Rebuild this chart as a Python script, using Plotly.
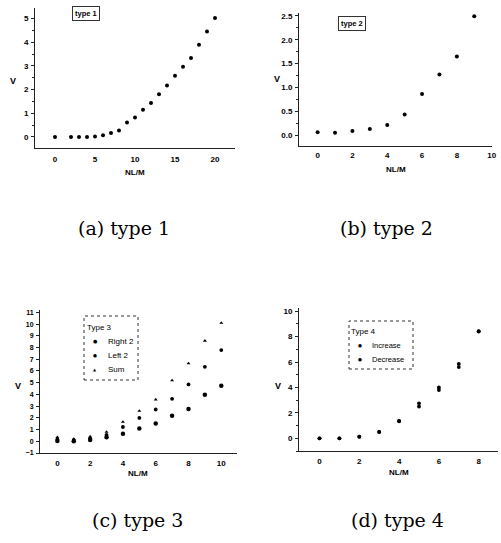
import plotly.graph_objects as go

# ---------------- data ----------------
t1_x = [0, 2, 3, 4, 5, 6, 7, 8, 9, 10, 11, 12, 13, 14, 15, 16, 17, 18, 19, 20]
t1_v = [0.0, 0.0, 0.0, 0.0, 0.02, 0.07, 0.16, 0.27, 0.61, 0.82, 1.15, 1.43,
        1.8, 2.17, 2.59, 2.97, 3.34, 3.9, 4.46, 5.03]

t2_x = [0, 1, 2, 3, 4, 5, 6, 7, 8, 9]
t2_v = [0.056, 0.05, 0.084, 0.126, 0.21, 0.43, 0.86, 1.27, 1.65, 2.49]

t3_x = [0, 1, 2, 3, 4, 5, 6, 7, 8, 9, 10]
t3_right = [0.02, 0.0, 0.1, 0.35, 0.65, 1.08, 1.51, 2.17, 2.76, 3.96, 4.73]
t3_left = [0.15, 0.1, 0.25, 0.55, 1.22, 1.99, 2.71, 3.62, 4.85, 6.35, 7.78]
t3_sum = [0.35, 0.2, 0.4, 0.8, 1.65, 2.59, 3.56, 5.19, 6.64, 8.57, 10.1]

t4_x = [0, 1, 2, 3, 4, 5, 6, 7, 8]
t4_inc = [0.0, 0.0, 0.13, 0.5, 1.34, 2.5, 3.8, 5.6, 8.4]
t4_dec = [0.0, 0.0, 0.12, 0.5, 1.36, 2.75, 4.0, 5.85, 8.42]

captions = ["(a) type 1", "(b) type 2", "(c) type 3", "(d) type 4"]
legend3_title, legend3_names = "Type 3", ["Right 2", "Left 2", "Sum"]
legend4_title, legend4_names = "Type 4", ["Increase", "Decrease"]

# ---------------- layout helpers ----------------
W, H = 501, 543
def fx(p):
    return p / W
def fy(p):
    return 1 - p / H

TXT = "black"
AX = "#222"
SANS = "Liberation Sans"
def bfont(size):
    return dict(family=SANS, size=size, color=TXT, weight="bold")

fig = go.Figure()

fig.add_trace(go.Scatter(x=t1_x, y=t1_v, mode="markers", xaxis="x", yaxis="y",
                         name="type 1", marker=dict(color="black", size=4)))
fig.add_trace(go.Scatter(x=t2_x, y=t2_v, mode="markers", xaxis="x2", yaxis="y2",
                         name="type 2", marker=dict(color="black", size=4)))
fig.add_trace(go.Scatter(x=t3_x, y=t3_right, mode="markers", xaxis="x3", yaxis="y3",
                         name=legend3_names[0],
                         marker=dict(color="black", size=4.5, symbol="circle")))
fig.add_trace(go.Scatter(x=t3_x, y=t3_left, mode="markers", xaxis="x3", yaxis="y3",
                         name=legend3_names[1],
                         marker=dict(color="black", size=3.8, symbol="circle")))
fig.add_trace(go.Scatter(x=t3_x, y=t3_sum, mode="markers", xaxis="x3", yaxis="y3",
                         name=legend3_names[2],
                         marker=dict(color="black", size=3.5, symbol="triangle-up")))
fig.add_trace(go.Scatter(x=t4_x, y=t4_inc, mode="markers", xaxis="x4", yaxis="y4",
                         name=legend4_names[0], marker=dict(color="black", size=3.8)))
fig.add_trace(go.Scatter(x=t4_x, y=t4_dec, mode="markers", xaxis="x4", yaxis="y4",
                         name=legend4_names[1], marker=dict(color="black", size=3.8)))

def xax(dom, rng, dtick, anchor, standoff=3):
    return dict(domain=[fx(dom[0]), fx(dom[1])], range=rng, dtick=dtick, tick0=0,
                anchor=anchor, showgrid=False, zeroline=False, showline=True,
                linecolor=AX, linewidth=1, ticks="", tickfont=bfont(8),
                ticklabelstandoff=standoff, automargin=False)

def yax(dom, rng, dtick, anchor, fmt="", minor=None, fs=8):
    d = dict(domain=[fy(dom[1]), fy(dom[0])], range=rng, dtick=dtick, tick0=0,
             anchor=anchor, showgrid=False, zeroline=False, showline=True,
             linecolor=AX, linewidth=1, ticks="outside", ticklen=3, tickwidth=1,
             tickcolor=AX, tickfont=bfont(fs), tickformat=fmt, ticklabelstandoff=1,
             automargin=False)
    if minor is not None:
        d["minor"] = dict(dtick=minor, ticks="outside", ticklen=2, tickcolor=AX, tickwidth=1)
    return d

fig.update_layout(
    width=W, height=H,
    margin=dict(l=0, r=0, t=0, b=0, autoexpand=False),
    paper_bgcolor="white", plot_bgcolor="white",
    font=dict(family=SANS, size=8, color=TXT),
    showlegend=False,
    xaxis=xax((35, 235), [-2.5, 22.5], 5, "y", 3),
    yaxis=yax((8, 148), [-0.47, 5.45], 1, "x", minor=0.5),
    xaxis2=xax((299, 492), [-1.07, 10.02], 2, "y2", 1),
    yaxis2=yax((13, 146), [-0.23, 2.56], 0.5, "x2", fmt=".1f", minor=0.25),
    xaxis3=xax((40, 237), [-1.06, 10.96], 2, "y3", 2),
    yaxis3=yax((310, 453), [-1.0, 11.2], 1, "x3", fs=7),
    xaxis4=xax((299, 498), [-1.03, 8.97], 2, "y4", 2),
    yaxis4=yax((308, 451), [-1.0, 10.25], 2, "x4", minor=1),
)

ann = []
shapes = []
def txt(s, x, y, font, xanchor="center", **kw):
    d = dict(text=s, x=fx(x), y=fy(y), xref="paper", yref="paper", showarrow=False,
             font=font, xanchor=xanchor, yanchor="middle")
    d.update(kw)
    ann.append(d)

# "type" boxes for (a) and (b)
txt("type 1", 86, 13, bfont(7.5), bordercolor="#333", borderwidth=1, borderpad=2)
txt("type 2", 352, 23, bfont(7.5), bordercolor="#333", borderwidth=1, borderpad=2)

BORDER = dict(color="#333", width=1, dash="dot")
# legend (c)
shapes.append(dict(type="rect", xref="paper", yref="paper", x0=fx(84), x1=fx(138),
                   y0=fy(380), y1=fy(316), line=BORDER, fillcolor="white", layer="above"))
txt(legend3_title, 85, 327, dict(family=SANS, size=8, color=TXT), xanchor="left")
for i, (nm, sym, sz) in enumerate(zip(legend3_names, ["●", "●", "▲"], [5, 4.5, 4])):
    yy = 341 + i * 14
    txt(sym, 95, yy, dict(family="DejaVu Sans", size=sz, color=TXT))
    txt(nm, 106, yy, dict(family=SANS, size=8, color=TXT), xanchor="left")

# legend (d)
shapes.append(dict(type="rect", xref="paper", yref="paper", x0=fx(349), x1=fx(413),
                   y0=fy(369), y1=fy(321), line=BORDER, fillcolor="white", layer="above"))
txt(legend4_title, 349, 331, dict(family=SANS, size=8, color=TXT), xanchor="left")
for i, nm in enumerate(legend4_names):
    yy = 345 + i * 14
    txt("●", 360, yy, dict(family="DejaVu Sans", size=4.5, color=TXT))
    txt(nm, 370, yy, dict(family=SANS, size=7.5, color=TXT), xanchor="left")

# axis titles
for (vx, vy), (nx, ny) in [((13, 81), (135, 172)), ((277, 79), (396, 169)),
                           ((18, 386), (138, 473)), ((278, 386), (399, 472))]:
    txt("V", vx, vy, bfont(9))
    txt("NL/M", nx, ny, bfont(8))

# captions
for s, (cx, cy) in zip(captions, [(124, 228), (386, 228), (137, 520), (397, 520)]):
    txt(s, cx, cy, dict(family="DejaVu Serif", size=19, color=TXT))

fig.update_layout(annotations=ann, shapes=shapes)
fig.write_html("out.html", config={"displayModeBar": False},
               post_script="document.body.style.margin='0';document.body.style.padding='0';")
